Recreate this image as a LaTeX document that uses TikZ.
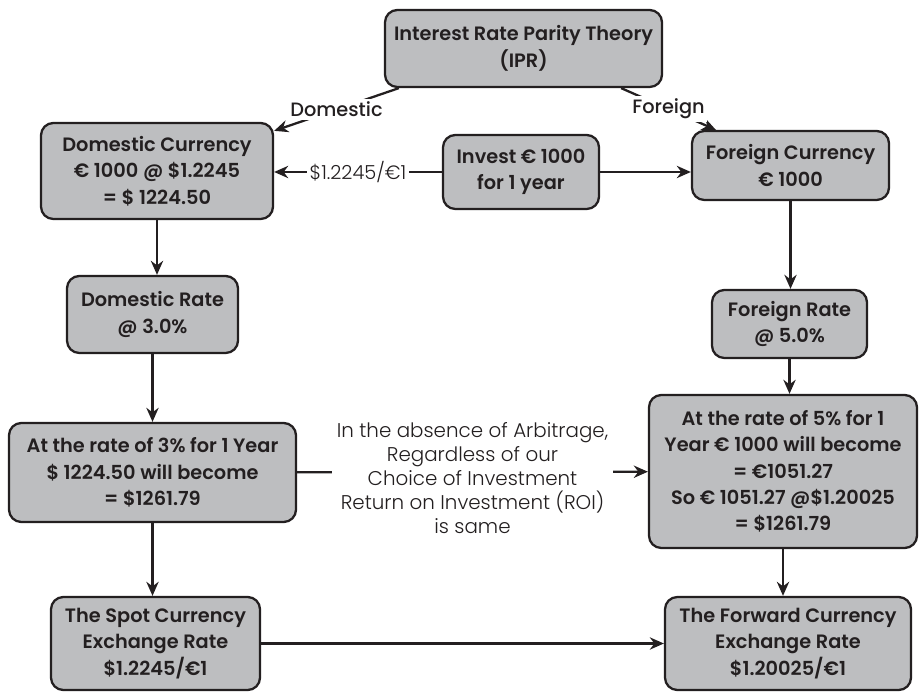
\documentclass[tikz,border=0pt]{standalone}
\usepackage{fontspec}
\setmainfont{Poppins}[BoldFont={* SemiBold}]
\newfontfamily\lightfont{Poppins}[UprightFont={* Light}]
\newfontfamily\midfont{Poppins}[UprightFont={* Medium}]
\usepackage{tikz}
\usetikzlibrary{arrows.meta}
\definecolor{boxgray}{HTML}{BDBEC0}
\definecolor{inkdark}{HTML}{231F20}

\tikzset{
  flowbox/.style={draw=inkdark, fill=boxgray, line width=1.3pt, rounded corners=7pt,
    align=center, text=inkdark, inner sep=2pt,
    font=\bfseries\fontsize{11}{15}\selectfont},
  arr/.style={draw=inkdark, line width=1.3pt, -{Stealth[length=8pt,width=7pt]}},
  tag/.style={fill=white, inner sep=1.5pt, text=inkdark},
}

\begin{document}
\begin{tikzpicture}[x=1cm, y=1cm]
\useasboundingbox (0,0) rectangle (18.4,13.86);
% boxes, top to bottom
\node[flowbox, minimum width=5.54cm, minimum height=1.54cm] (ipr) at (10.47,12.89)
  {Interest Rate Parity Theory\\(IPR)};
\node[flowbox, minimum width=4.64cm, minimum height=1.92cm] (domcur) at (3.14,10.44)
  {Domestic Currency\\€ 1000 @ \$1.2245\\= \$ 1224.50};
\node[flowbox, minimum width=3.12cm, minimum height=1.48cm] (invest) at (10.42,10.42)
  {Invest € 1000\\for 1 year};
\node[flowbox, minimum width=3.94cm, minimum height=1.38cm] (forcur) at (15.81,10.55)
  {Foreign Currency\\€ 1000};
\node[flowbox, minimum width=3.42cm, minimum height=1.54cm] (domrate) at (3.05,7.57)
  {Domestic Rate\\@ 3.0\%};
\node[flowbox, minimum width=3.10cm, minimum height=1.36cm] (forrate) at (15.79,7.38)
  {Foreign Rate\\@ 5.0\%};
\node[flowbox, minimum width=5.74cm, minimum height=1.98cm] (domret) at (3.05,4.41)
  {At the rate of 3\% for 1 Year\\\$ 1224.50 will become\\= \$1261.79};
\node[flowbox, minimum width=5.36cm, minimum height=3.06cm] (forret) at (15.66,4.43)
  {At the rate of 5\% for 1\\Year € 1000 will become\\= €1051.27\\So € 1051.27 @\$1.20025\\= \$1261.79};
\node[flowbox, minimum width=4.18cm, minimum height=1.86cm] (spot) at (3.11,0.99)
  {The Spot Currency\\Exchange Rate\\\$1.2245/€1};
\node[flowbox, minimum width=4.92cm, minimum height=1.86cm] (fwd) at (15.76,0.99)
  {The Forward Currency\\Exchange Rate\\\$1.20025/€1};

% branches from the top box
\draw[arr] ([xshift=0.3cm]ipr.south west) -- node[tag, font=\midfont\fontsize{11}{12}\selectfont] {Domestic}
  ([yshift=-0.18cm]domcur.north east);
\draw[arr] ([xshift=-0.84cm]ipr.south east) -- node[tag, font=\midfont\fontsize{11}{12}\selectfont] {Foreign}
  ([xshift=0.5cm]forcur.north west);
\draw[arr] (invest.west) -- node[tag, font=\lightfont\fontsize{11}{12}\selectfont] {\$1.2245/€1}
  (invest.west -| domcur.east);
\draw[arr] (invest.east) -- (invest.east -| forcur.west);

% domestic side
\draw[arr] (domcur.south) -- (domcur.south |- domrate.north);
\draw[arr] (domrate) -- (domret);
\draw[arr] (domret.south) -- (domret.south |- spot.north);
% foreign side
\draw[arr] (forcur.south) -- (forcur.south |- forrate.north);
\draw[arr] (forrate.south) -- (forrate.south |- forret.north);
\draw[arr] (forret.south) -- (forret.south |- fwd.north);

\draw[arr] (spot) -- (fwd);
\draw[arr] (domret) -- node[tag, yshift=-0.12cm, align=center, inner sep=3pt,
    font=\lightfont\fontsize{11.3}{13.6}\selectfont]
  {In the absence of Arbitrage,\\Regardless of our\\Choice of Investment\\Return on Investment (ROI)\\is same}
  (forret);
\end{tikzpicture}
\end{document}
